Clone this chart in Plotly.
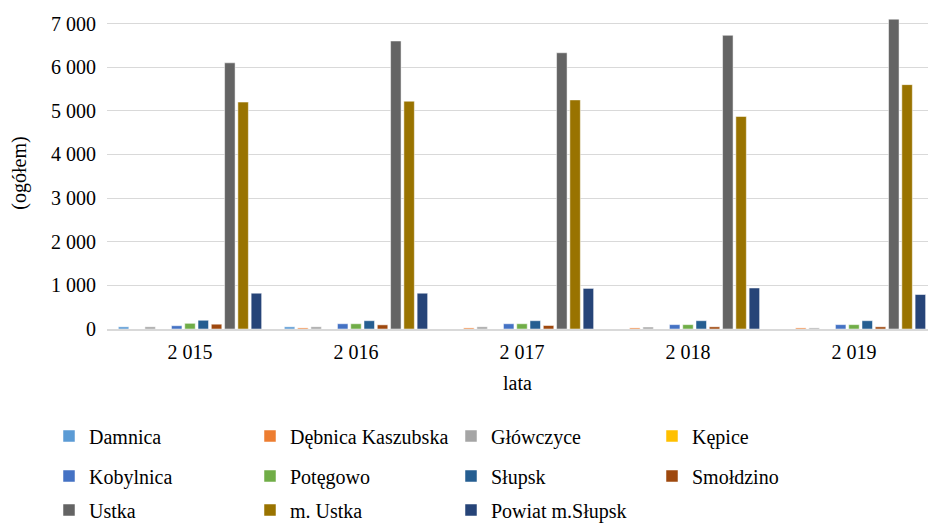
import plotly.graph_objects as go

years = ["2 015", "2 016", "2 017", "2 018", "2 019"]
series_names = ["Damnica", "Dębnica Kaszubska", "Główczyce", "Kępice", "Kobylnica",
                "Potęgowo", "Słupsk", "Smołdzino", "Ustka", "m. Ustka", "Powiat m.Słupsk"]
damnica = [50, 50, 0, 0, 0]
debnica = [0, 25, 25, 25, 25]
glowczyce = [50, 50, 50, 45, 25]
kepice = [0, 0, 0, 0, 0]
kobylnica = [75, 120, 120, 100, 100]
potegowo = [130, 120, 120, 100, 100]
slupsk = [200, 190, 190, 190, 190]
smoldzino = [110, 95, 80, 50, 50]
ustka = [6100, 6600, 6330, 6730, 7100]
m_ustka = [5200, 5220, 5250, 4870, 5600]
powiat = [820, 820, 930, 940, 790]

values = [damnica, debnica, glowczyce, kepice, kobylnica, potegowo,
          slupsk, smoldzino, ustka, m_ustka, powiat]
colors = ["#5B9BD5", "#ED7D31", "#A5A5A5", "#FFC000", "#4472C4", "#70AD47",
          "#255E91", "#9E480E", "#646464", "#997300", "#264478"]

FONT = "Liberation Serif, Times New Roman, serif"
FS = 20
fig = go.Figure()
for i, (name, vals, col) in enumerate(zip(series_names, values, colors)):
    leg = ["legend", "legend2", "legend3"][i // 4]
    fig.add_trace(go.Bar(x=years, y=vals, name=name, marker_color=col,
                         marker_line=dict(color="white", width=0.5),
                         legend=leg))

L, R, T, B = 107, 0, 17, 195
H = 524 - T - B
W = 928 - L - R

def py(p):
    return (524 - B - p) / H

def px(p):
    return (p - L) / W

legend_common = dict(orientation="h", entrywidth=156, entrywidthmode="pixels",
                     font=dict(family=FONT, size=FS, color="black"),
                     xanchor="left", yanchor="middle", bgcolor="rgba(0,0,0,0)",
                     itemclick=False, traceorder="normal")

fig.update_layout(
    width=928, height=524,
    margin=dict(l=L, r=R, t=T, b=B, autoexpand=False),
    paper_bgcolor="white", plot_bgcolor="white",
    separators=", ",
    barmode="group", bargap=0.12, bargroupgap=0.21,
    font=dict(family=FONT, size=FS, color="black"),
    xaxis=dict(showline=True, linecolor="#d9d9d9", linewidth=1.5, automargin=False,
               range=[-0.5, 4.446], ticklabelstandoff=4,
               ticks="", title=dict(text="lata", font=dict(family=FONT, size=FS), standoff=14),
               tickfont=dict(family=FONT, size=FS)),
    yaxis=dict(range=[0, 7150], tickvals=[0, 1000, 2000, 3000, 4000, 5000, 6000, 7000],
               tickformat=",d", showgrid=True, gridcolor="#d9d9d9", gridwidth=1,
               zeroline=False, showline=False, ticks="", ticklabelstandoff=10,
               automargin=False,
               title=dict(text="(ogółem)", font=dict(family=FONT, size=FS), standoff=19),
               tickfont=dict(family=FONT, size=FS)),
    legend=dict(x=px(49), y=py(436), **legend_common),
    legend2=dict(x=px(49), y=py(476), **legend_common),
    legend3=dict(x=px(49), y=py(510), **legend_common),
)

fig.write_html("out.html", config={"displayModeBar": False},
               post_script="document.body.style.margin='0';document.body.style.overflow='hidden';")
